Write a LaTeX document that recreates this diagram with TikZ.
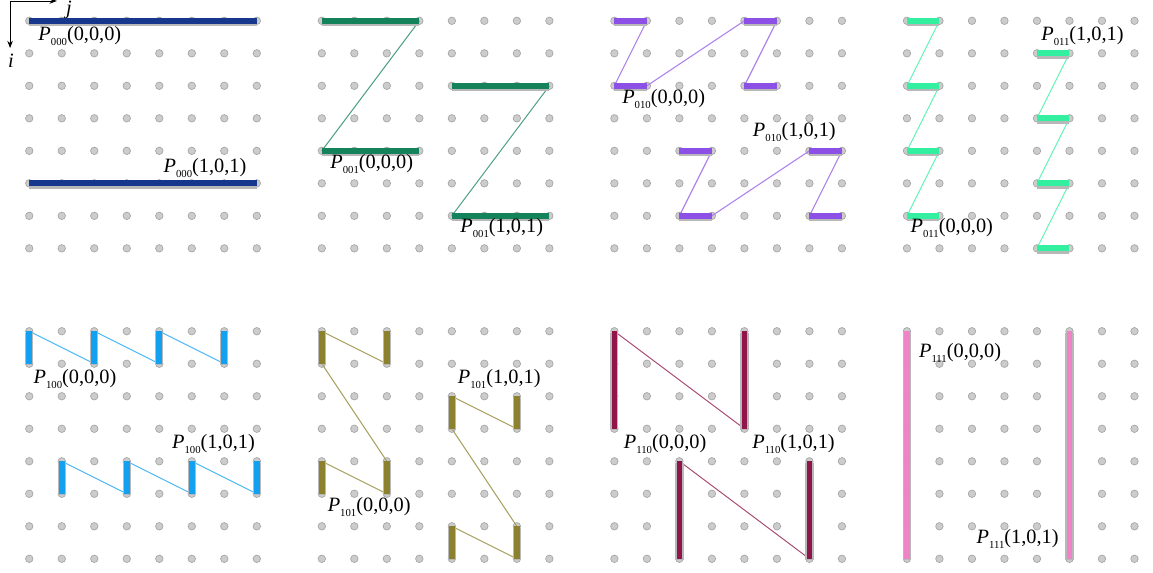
\documentclass[tikz,border=0pt]{standalone}
\usepackage{fontspec}
\setmainfont{Liberation Serif}
\usepackage{xcolor}
\usetikzlibrary{arrows.meta}

\definecolor{c000}{RGB}{23,55,140}
\definecolor{c001}{RGB}{20,130,90}
\definecolor{c010}{RGB}{140,80,230}
\definecolor{c011}{RGB}{50,240,160}
\definecolor{c100}{RGB}{20,160,240}
\definecolor{c101}{RGB}{140,130,45}
\definecolor{c110}{RGB}{145,20,75}
\definecolor{c111}{RGB}{240,130,200}

\newcommand{\plab}[2]{\textit{P}\raisebox{-2.2pt}{\fontsize{4.7}{5}\selectfont #1}(#2)}

\begin{document}
\begin{tikzpicture}[
    x=0.5cm, y=0.5cm,
    dot/.style={
        circle,
        inner sep=0pt,
        minimum size=0.115cm,
        fill=black!20,
        draw=black!35,
        line width=0.3pt
    },
    seg/.style={
        line width=2.5pt,
        preaction={draw=black!28, line width=3.6pt,
            transform canvas={yshift=-0.6pt}}
    },
    link/.style={line width=0.45pt},
    plabel/.style={
        anchor=base west,
        inner sep=0pt,
        font=\fontsize{8.9}{10}\selectfont
    },
    axlabel/.style={inner sep=0pt, font=\fontsize{8.9}{10}\selectfont\itshape},
    axis/.style={line width=0.4pt, -{Stealth[length=3.2pt, width=2.4pt]}}
]
    \useasboundingbox (-0.9,0.64) rectangle (34.57,-16.98);

    % grids of the eight panels
    \foreach \pn/\px/\py in {000/0/0, 001/9/0, 010/18/0, 011/27/0,
                             100/0/9.55, 101/9/9.55, 110/18/9.55, 111/27/9.55}
        \foreach \c in {0,...,7}
            \foreach \r in {0,...,7}
                \node[dot] (n\pn-\c-\r) at (\px+\c, -\py-\r) {};

    % axes
    \coordinate (axo) at (-0.59,0.61);
    \coordinate (jend) at (0.85,0.61);
    \coordinate (iend) at (-0.59,-0.84);
    \draw[axis] (axo) -- (jend);
    \draw[axis] (axo) -- (iend);
    \node[axlabel, anchor=north] (jlab) at (1.22,0.62) {j};
    \node[axlabel] (ilab) at (-0.56,-1.24) {i};

    % P000
    \draw[seg, c000] (n000-0-0.center) -- (n000-7-0.center);
    \draw[seg, c000] (n000-0-5.center) -- (n000-7-5.center);
    \node[plabel] (l000a) at (0.27,-0.6) {\plab{000}{0,0,0}};
    \node[plabel] (l000b) at (4.12,-4.67) {\plab{000}{1,0,1}};

    % P001
    \draw[link, c001!75!white] (n001-3-0.center) -- (n001-0-4.center);
    \draw[link, c001!75!white] (n001-7-2.center) -- (n001-4-6.center);
    \draw[seg, c001] (n001-0-0.center) -- (n001-3-0.center);
    \draw[seg, c001] (n001-0-4.center) -- (n001-3-4.center);
    \draw[seg, c001] (n001-4-2.center) -- (n001-7-2.center);
    \draw[seg, c001] (n001-4-6.center) -- (n001-7-6.center);
    \node[plabel] (l001a) at (9.25,-4.55) {\plab{001}{0,0,0}};
    \node[plabel] (l001b) at (13.25,-6.5) {\plab{001}{1,0,1}};

    % P010
    \draw[link, c010!75!white] (n010-1-0.center) -- (n010-0-2.center);
    \draw[link, c010!75!white] (n010-1-2.center) -- (n010-4-0.center);
    \draw[link, c010!75!white] (n010-5-0.center) -- (n010-4-2.center);
    \draw[link, c010!75!white] (n010-3-4.center) -- (n010-2-6.center);
    \draw[link, c010!75!white] (n010-3-6.center) -- (n010-6-4.center);
    \draw[link, c010!75!white] (n010-7-4.center) -- (n010-6-6.center);
    \draw[seg, c010] (n010-0-0.center) -- (n010-1-0.center);
    \draw[seg, c010] (n010-0-2.center) -- (n010-1-2.center);
    \draw[seg, c010] (n010-4-0.center) -- (n010-5-0.center);
    \draw[seg, c010] (n010-4-2.center) -- (n010-5-2.center);
    \draw[seg, c010] (n010-2-4.center) -- (n010-3-4.center);
    \draw[seg, c010] (n010-2-6.center) -- (n010-3-6.center);
    \draw[seg, c010] (n010-6-4.center) -- (n010-7-4.center);
    \draw[seg, c010] (n010-6-6.center) -- (n010-7-6.center);
    \node[plabel] (l010a) at (18.23,-2.55) {\plab{010}{0,0,0}};
    \node[plabel] (l010b) at (22.25,-3.55) {\plab{010}{1,0,1}};

    % P011
    \draw[link, c011!75!white] (n011-1-0.center) -- (n011-0-2.center);
    \draw[link, c011!75!white] (n011-1-2.center) -- (n011-0-4.center);
    \draw[link, c011!75!white] (n011-1-4.center) -- (n011-0-6.center);
    \draw[link, c011!75!white] (n011-5-1.center) -- (n011-4-3.center);
    \draw[link, c011!75!white] (n011-5-3.center) -- (n011-4-5.center);
    \draw[link, c011!75!white] (n011-5-5.center) -- (n011-4-7.center);
    \draw[seg, c011] (n011-0-0.center) -- (n011-1-0.center);
    \draw[seg, c011] (n011-0-2.center) -- (n011-1-2.center);
    \draw[seg, c011] (n011-0-4.center) -- (n011-1-4.center);
    \draw[seg, c011] (n011-0-6.center) -- (n011-1-6.center);
    \draw[seg, c011] (n011-4-1.center) -- (n011-5-1.center);
    \draw[seg, c011] (n011-4-3.center) -- (n011-5-3.center);
    \draw[seg, c011] (n011-4-5.center) -- (n011-5-5.center);
    \draw[seg, c011] (n011-4-7.center) -- (n011-5-7.center);
    \node[plabel] (l011a) at (27.1,-6.5) {\plab{011}{0,0,0}};
    \node[plabel] (l011b) at (31.12,-0.6) {\plab{011}{1,0,1}};

    % P100
    \draw[link, c100!75!white] (n100-0-0.center) -- (n100-2-1.center);
    \draw[link, c100!75!white] (n100-2-0.center) -- (n100-4-1.center);
    \draw[link, c100!75!white] (n100-4-0.center) -- (n100-6-1.center);
    \draw[link, c100!75!white] (n100-1-4.center) -- (n100-3-5.center);
    \draw[link, c100!75!white] (n100-3-4.center) -- (n100-5-5.center);
    \draw[link, c100!75!white] (n100-5-4.center) -- (n100-7-5.center);
    \draw[seg, c100] (n100-0-0.center) -- (n100-0-1.center);
    \draw[seg, c100] (n100-2-0.center) -- (n100-2-1.center);
    \draw[seg, c100] (n100-4-0.center) -- (n100-4-1.center);
    \draw[seg, c100] (n100-6-0.center) -- (n100-6-1.center);
    \draw[seg, c100] (n100-1-4.center) -- (n100-1-5.center);
    \draw[seg, c100] (n100-3-4.center) -- (n100-3-5.center);
    \draw[seg, c100] (n100-5-4.center) -- (n100-5-5.center);
    \draw[seg, c100] (n100-7-4.center) -- (n100-7-5.center);
    \node[plabel] (l100a) at (0.12,-11.15) {\plab{100}{0,0,0}};
    \node[plabel] (l100b) at (4.38,-13.15) {\plab{100}{1,0,1}};

    % P101
    \draw[link, c101!75!white] (n101-0-0.center) -- (n101-2-1.center);
    \draw[link, c101!75!white] (n101-0-1.center) -- (n101-2-4.center);
    \draw[link, c101!75!white] (n101-0-4.center) -- (n101-2-5.center);
    \draw[link, c101!75!white] (n101-4-2.center) -- (n101-6-3.center);
    \draw[link, c101!75!white] (n101-4-3.center) -- (n101-6-6.center);
    \draw[link, c101!75!white] (n101-4-6.center) -- (n101-6-7.center);
    \draw[seg, c101] (n101-0-0.center) -- (n101-0-1.center);
    \draw[seg, c101] (n101-2-0.center) -- (n101-2-1.center);
    \draw[seg, c101] (n101-0-4.center) -- (n101-0-5.center);
    \draw[seg, c101] (n101-2-4.center) -- (n101-2-5.center);
    \draw[seg, c101] (n101-4-2.center) -- (n101-4-3.center);
    \draw[seg, c101] (n101-6-2.center) -- (n101-6-3.center);
    \draw[seg, c101] (n101-4-6.center) -- (n101-4-7.center);
    \draw[seg, c101] (n101-6-6.center) -- (n101-6-7.center);
    \node[plabel] (l101a) at (9.17,-15.1) {\plab{101}{0,0,0}};
    \node[plabel] (l101b) at (13.17,-11.15) {\plab{101}{1,0,1}};

    % P110
    \draw[link, c110!75!white] (n110-0-0.center) -- (n110-4-3.center);
    \draw[link, c110!75!white] (n110-2-4.center) -- (n110-6-7.center);
    \draw[seg, c110] (n110-0-0.center) -- (n110-0-3.center);
    \draw[seg, c110] (n110-4-0.center) -- (n110-4-3.center);
    \draw[seg, c110] (n110-2-4.center) -- (n110-2-7.center);
    \draw[seg, c110] (n110-6-4.center) -- (n110-6-7.center);
    \node[plabel] (l110a) at (18.28,-13.15) {\plab{110}{0,0,0}};
    \node[plabel] (l110b) at (22.23,-13.15) {\plab{110}{1,0,1}};

    % P111
    \draw[seg, c111] (n111-0-0.center) -- (n111-0-7.center);
    \draw[seg, c111] (n111-5-0.center) -- (n111-5-7.center);
    \node[plabel] (l111a) at (27.36,-10.37) {\plab{111}{0,0,0}};
    \node[plabel] (l111b) at (29.13,-16.09) {\plab{111}{1,0,1}};
\end{tikzpicture}
\end{document}
